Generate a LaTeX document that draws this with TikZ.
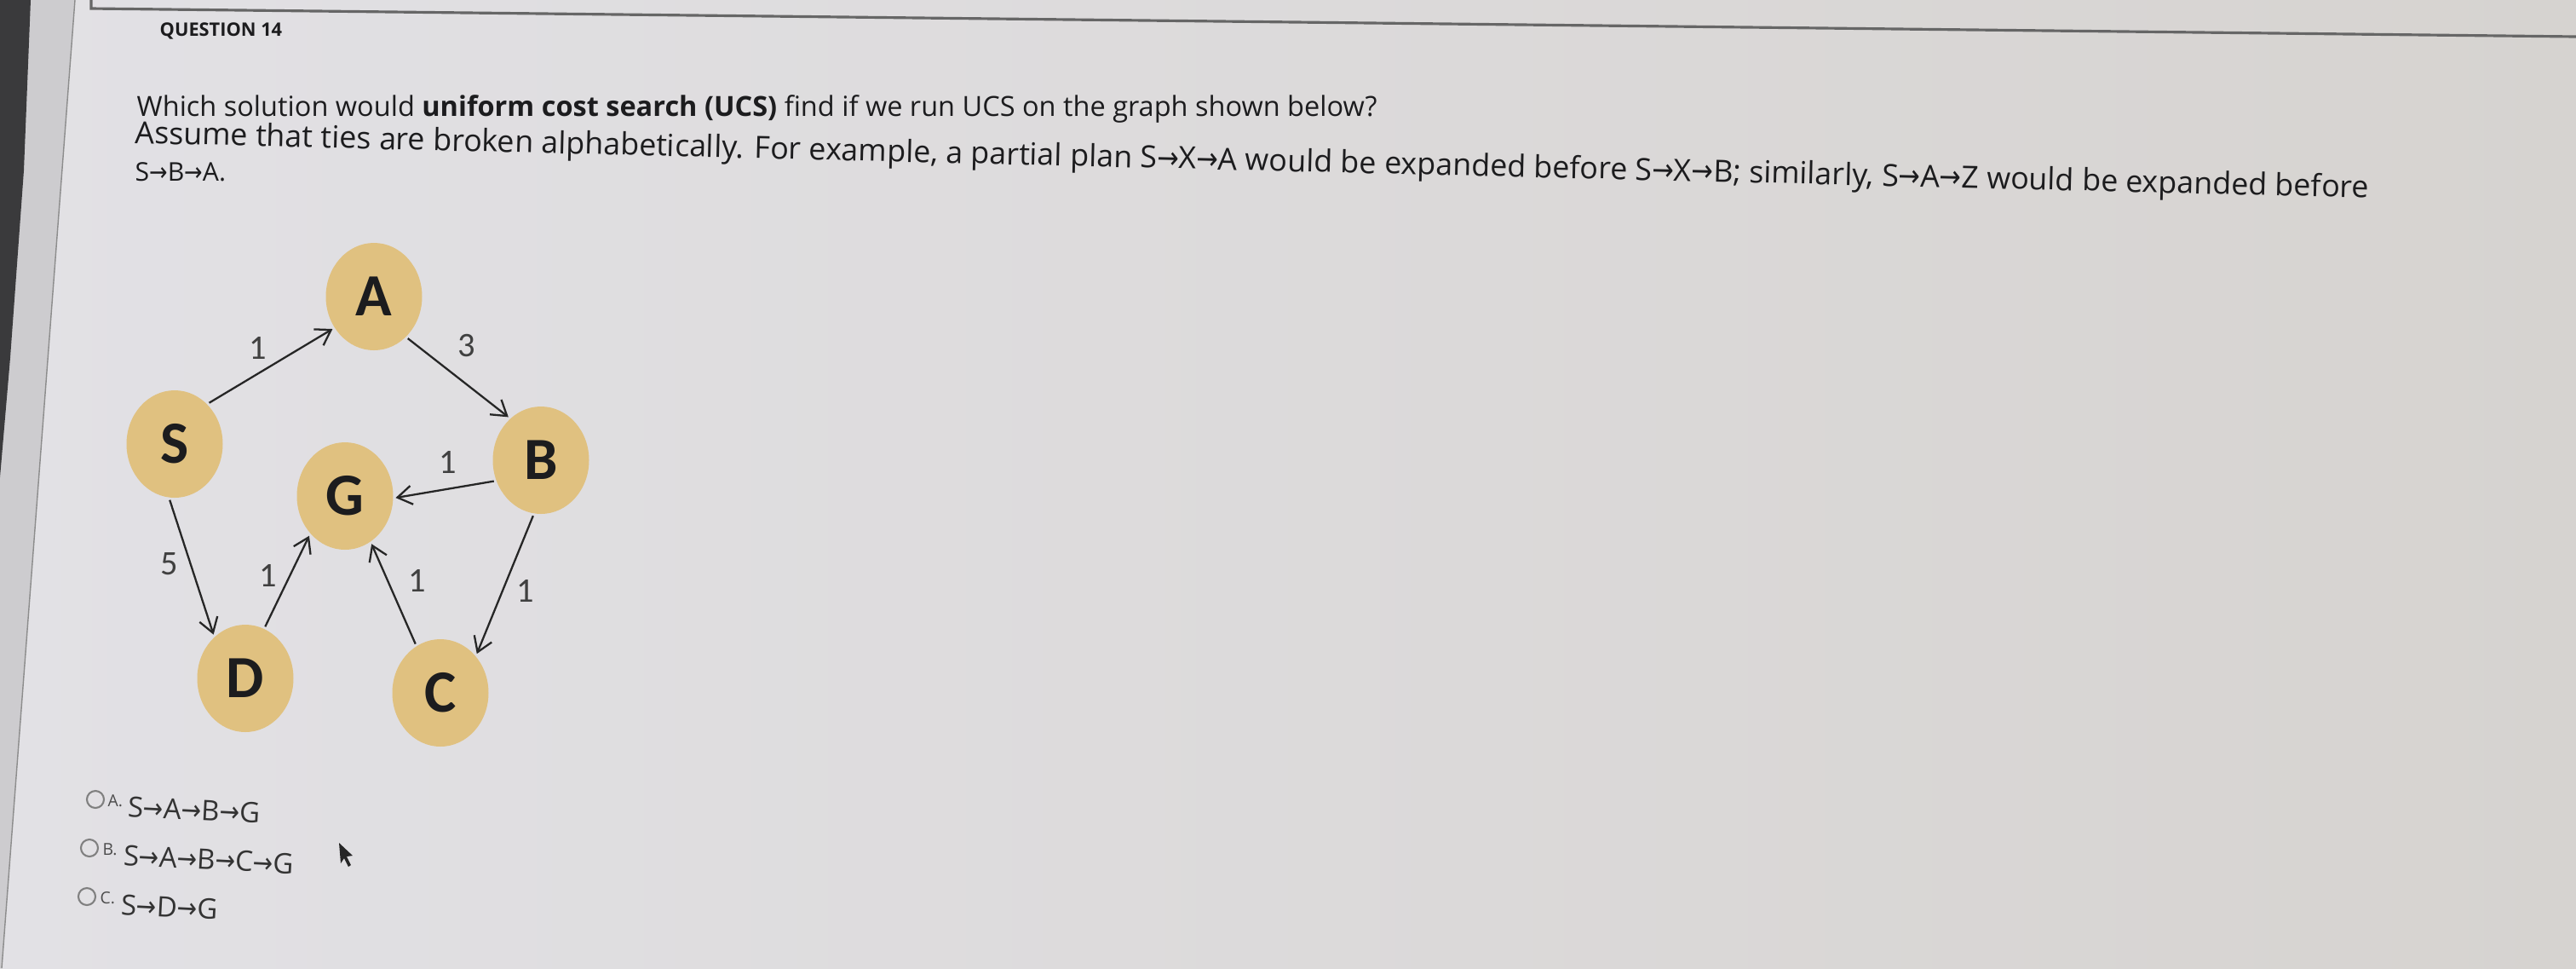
\documentclass[tikz,border=0pt]{standalone}
\usepackage{fontspec}
\setmainfont{Open Sans}
\newfontfamily\calfont{Carlito}
\newfontfamily\arrfont{DejaVu Sans}
\usetikzlibrary{arrows.meta}
\usetikzlibrary{shapes.geometric}

\definecolor{screenl}{RGB}{226,225,229}
\definecolor{screenr}{RGB}{214,211,208}
\definecolor{bezel}{RGB}{58,58,60}
\definecolor{panel}{RGB}{205,204,207}
\definecolor{nodetan}{RGB}{224,193,128}
\definecolor{ink}{RGB}{28,28,30}
\newcommand{\toarr}{{\arrfont\scalebox{0.85}[1]{→}}}

\begin{document}
\begin{tikzpicture}
\tikzset{
  vertex/.style={ellipse, fill=nodetan, minimum width=1.13cm, minimum height=1.26cm,
    inner sep=0pt, outer sep=0.03cm, text=ink, font=\calfont\bfseries\fontsize{20}{20}\selectfont},
  weight/.style={text=black!75, font=\calfont\fontsize{11.5}{12}\selectfont},
  edge/.style={line width=0.65pt, draw=black!85, -{Straight Barb[length=0.17cm,width=0.22cm]}},
  radio/.style={circle, draw=black!50, line width=0.6pt, minimum size=0.2cm, inner sep=0pt},
  optlabel/.style={anchor=base west, inner sep=0pt, text=black!70, font=\fontsize{5.5}{6}\selectfont},
  opttext/.style={anchor=base west, inner sep=0pt, text=black!80, font=\fontsize{9.4}{10}\selectfont},
  qtext/.style={anchor=base west, inner sep=0pt, text=ink}
}
\useasboundingbox (0,0) rectangle (30.24,-11.36);
% screen
\shade[left color=screenl, right color=screenr] (0,0) rectangle (30.24,-11.36);
\fill[panel] (0,0) -- (0.88,0) -- (0.02,-11.36) -- (0,-11.36) -- cycle;
\fill[bezel] (0,0) -- (0.36,0) -- (0.28,-2.0) -- (0.12,-4.2) -- (0,-5.6) -- cycle;
\draw[black!45, line width=0.4pt] (0.88,0) -- (0.02,-11.36);
\draw[black!60, line width=0.9pt] (1.07,0) -- (1.07,-0.10) -- (30.24,-0.43);
% question text
\node[qtext, font=\bfseries\fontsize{6.2}{8}\selectfont] (qnum) at (1.87,-0.42) {QUESTION 14};
\node[qtext, font=\fontsize{9.25}{10}\selectfont] (qline1) at (1.60,-1.36)
  {Which solution would \textbf{uniform cost search (UCS)} find if we run UCS on the graph shown below?};
\node[qtext, rotate=-1.4, font=\fontsize{10.2}{11}\selectfont] (qline2) at (1.58,-1.68)
  {Assume that ties are broken alphabetically. For example, a partial plan S\toarr X\toarr A would be expanded before S\toarr X\toarr B; similarly, S\toarr A\toarr Z would be expanded before};
\node[qtext, font=\fontsize{8.6}{10}\selectfont] (qline3) at (1.58,-2.12) {S\toarr B\toarr A.};
% draws vertices
\node[vertex] (S) at (2.05,-5.21) {S};
\node[vertex] (A) at (4.39,-3.48) {A};
\node[vertex] (B) at (6.35,-5.40) {B};
\node[vertex] (G) at (4.05,-5.82) {G};
\node[vertex] (D) at (2.88,-7.96) {D};
\node[vertex] (C) at (5.17,-8.13) {C};
% labels edges
\node[weight] (wSA) at (3.03,-4.08) {1};
\node[weight] (wAB) at (5.48,-4.06) {3};
\node[weight] (wBG) at (5.26,-5.42) {1};
\node[weight] (wSD) at (1.99,-6.62) {5};
\node[weight] (wDG) at (3.15,-6.75) {1};
\node[weight] (wCG) at (4.90,-6.81) {1};
\node[weight] (wBC) at (6.17,-6.93) {1};
% draws edges
\draw[edge] (S.50) to (A.218);
\draw[edge] (A.309) to (B.127);
\draw[edge] (B.204) to (G.358);
\draw[edge] (S.265) to (D.126);
\draw[edge] (D.69) to (G.228);
\draw[edge] (C.117) to (G.299);
\draw[edge] (B.262) to (C.47);
% answer choices
\node[radio] (rA) at (1.12,-9.38) {};
\node[radio] (rB) at (1.05,-9.95) {};
\node[radio] (rC) at (1.02,-10.52) {};
\node[optlabel] (lA) at (1.26,-9.46) {A.};
\node[optlabel] (lB) at (1.20,-10.03) {B.};
\node[optlabel] (lC) at (1.17,-10.60) {C.};
\node[opttext, rotate=-3] (oA) at (1.49,-9.58) {S\toarr A\toarr B\toarr G};
\node[opttext, rotate=-3] (oB) at (1.44,-10.15) {S\toarr A\toarr B\toarr C\toarr G};
\node[opttext, rotate=-3] (oC) at (1.41,-10.73) {S\toarr D\toarr G};
% pointer
\fill[black!85] (3.98,-9.89) -- (4.00,-10.13) -- (4.04,-10.07) -- (4.09,-10.17) -- (4.12,-10.15) -- (4.07,-10.05) -- (4.14,-10.04) -- cycle;
\end{tikzpicture}
\end{document}
